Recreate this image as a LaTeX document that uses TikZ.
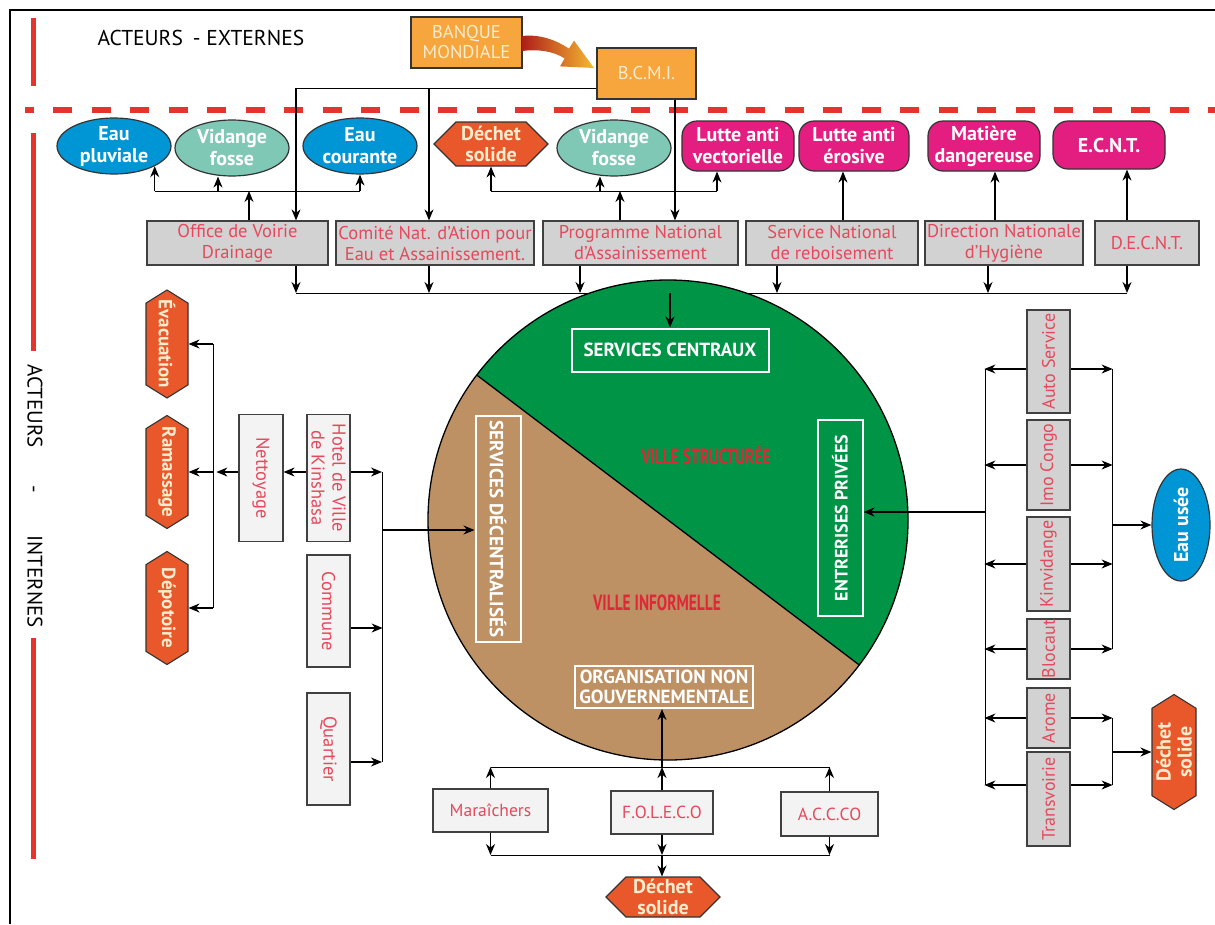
\documentclass[tikz,border=0pt]{standalone}
\usepackage{fontspec}
\setmainfont{PT Sans}
\usetikzlibrary{arrows.meta, shapes.geometric, shapes.symbols, calc}

\definecolor{rougetrait}{RGB}{229,52,43}
\definecolor{orangebox}{RGB}{246,166,60}
\definecolor{creme}{RGB}{253,236,205}
\definecolor{flechedebut}{RGB}{175,30,25}
\definecolor{flechefin}{RGB}{246,185,50}
\definecolor{bleu}{RGB}{0,150,214}
\definecolor{turquoise}{RGB}{128,200,182}
\definecolor{orangehexa}{RGB}{233,88,42}
\definecolor{rose}{RGB}{227,30,128}
\definecolor{grisbox}{RGB}{210,210,210}
\definecolor{grisclair}{RGB}{243,243,243}
\definecolor{texterouge}{RGB}{230,72,92}
\definecolor{vert}{RGB}{0,148,70}
\definecolor{brun}{RGB}{190,145,100}
\definecolor{villerouge}{RGB}{222,40,55}

\begin{document}
\begin{tikzpicture}[x=1pt, y=-1pt,
    fleche/.style={-{Stealth[length=11pt, width=9pt]}, line width=1.2pt},
    ovale/.style={ellipse, draw=black!80, line width=1.2pt, minimum width=114pt,
      minimum height=56pt, inner sep=-8pt, text=white, align=center,
      font=\bfseries\fontsize{20}{22}\selectfont},
    hexa/.style={signal, signal to=east and west, signal pointer angle=90,
      fill=orangehexa, draw=black!80, line width=1.1pt, inner xsep=0pt, inner ysep=-4pt,
      text=creme, align=center, font=\bfseries\fontsize{20}{21}\selectfont},
    hexav/.style={hexa, minimum height=42pt, signal pointer angle=116, inner xsep=-12pt,
      inner ysep=0pt, font=\bfseries\fontsize{19}{21}\selectfont},
    arrondi/.style={rectangle, rounded corners=15pt, fill=rose, draw=black!80,
      line width=1.2pt, minimum height=50pt, inner sep=0pt, text=white, align=center,
      font=\bfseries\fontsize{20}{22}\selectfont},
    service/.style={rectangle, fill=grisbox, draw=black!75, line width=1.2pt,
      inner sep=0pt, text=texterouge, align=center, font=\fontsize{18.5}{21}\selectfont},
    acteur/.style={service, fill=grisclair},
    cadre/.style={rectangle, draw=white, line width=2pt, inner sep=0pt, text=white,
      align=center, font=\bfseries\fontsize{19}{20}\selectfont},
    mondial/.style={rectangle, fill=orangebox, draw=black!80, line width=1.2pt,
      inner sep=0pt, text=creme, align=center, font=\fontsize{18.5}{20}\selectfont}]
  \fill[white] (0,0) rectangle (1215,924);
  \useasboundingbox (0,0) rectangle (1215,924);
  \draw[line width=1.5pt] (1215,10) -- (10,10) -- (10,924);

  % Red markers: externes / internes.
  \draw[rougetrait, line width=5pt] (33,18) -- (33,86);
  \draw[rougetrait, line width=6pt, dash pattern=on 19pt off 19.5pt, dash phase=10.5pt]
    (25,110) -- (1215,110);
  \draw[rougetrait, line width=5pt] (33,133) -- (33,351) (33,638) -- (33,859);
  \node[anchor=west, font=\fontsize{21.5}{24}\selectfont] (ext) at (94,38)
    {ACTEURS\hspace{10pt}- EXTERNES};
  \node[rotate=-90, font=\fontsize{21}{24}\selectfont] (int) at (35,496)
    {ACTEURS\hspace{38pt}-\hspace{42pt}INTERNES};

  % Bailleurs.
  \node[mondial, minimum width=111pt, minimum height=51pt] (banque) at (466.5,42.5) {BANQUE\\MONDIALE};
  \node[mondial, minimum width=99pt, minimum height=51pt] (bcmi) at (646.5,73.5) {B.C.M.I.};
  \shade[left color=flechedebut, right color=flechefin]
    (522,36) .. controls (540,34) and (556,40) .. (569,48.6) -- (574,40.6) -- (594,68)
    -- (560,66.4) -- (564.6,58.4) .. controls (553,51) and (538,49) .. (522,51) -- cycle;

  % Domaines d'intervention.
  \node[ovale, fill=bleu] (pluv) at (114,146) {Eau\\pluviale};
  \node[ovale, fill=turquoise] (vid1) at (232,148) {Vidange\\fosse};
  \node[ovale, fill=bleu] (cour) at (360,146) {Eau\\courante};
  \node[hexa, minimum width=114pt, minimum height=44pt] (dech1) at (491,144) {Déchet\\solide};
  \node[ovale, fill=turquoise] (vid2) at (614,148) {Vidange\\fosse};
  \node[arrondi, minimum width=112pt] (vect) at (738,146) {Lutte anti\\vectorielle};
  \node[arrondi, minimum width=110pt] (eros) at (854,146) {Lutte anti\\érosive};
  \node[arrondi, minimum width=112pt] (mdang) at (984,146) {Matière\\dangereuse};
  \node[arrondi, minimum width=112pt, minimum height=48pt] (ecnt) at (1109,145) {E.C.N.T.};

  % Services centraux.
  \node[service, minimum width=181pt, minimum height=44pt] (ovd) at (237.5,243) {Office de Voirie\\Drainage};
  \node[service, minimum width=198pt, minimum height=44pt] (cnaea) at (435,243) {Comité Nat. d’Ation pour\\Eau et Assainissement.};
  \node[service, minimum width=195pt, minimum height=44pt] (pna) at (640.5,243) {Programme National\\d’Assainissement};
  \node[service, minimum width=172pt, minimum height=44pt] (snr) at (832,243) {Service National\\de reboisement};
  \node[service, minimum width=158pt, minimum height=44pt] (dnh) at (1004,243) {Direction Nationale\\d’Hygiène};
  \node[service, minimum width=104pt, minimum height=44pt] (decnt) at (1147,243) {D.E.C.N.T.};

  % B.C.M.I. vers les services.
  \coordinate (bk1) at (296,88);
  \coordinate (bk2) at (429,88);
  \draw (bcmi.west |- bk1) -- (bk1);
  \draw[fleche] (bk1) -- (bk1 |- ovd.north);
  \draw[fleche] (bk2) -- (bk2 |- cnaea.north);
  \draw[fleche] (675,0 |- bcmi.south) -- (675,0 |- pna.north);

  % Services vers domaines.
  \coordinate (o1) at (249,191);
  \draw[fleche] (o1 |- ovd.north) -- (o1);
  \draw (o1 -| pluv.south east) -- (o1 -| cour.south);
  \draw[fleche] (o1 -| pluv.south east) -- (pluv.south east);
  \draw[fleche] (218,191) -- (218,0 |- vid1.south);
  \draw[fleche] (o1 -| cour.south) -- (cour.south);
  \coordinate (o2) at (620,191);
  \draw[fleche] (o2 |- pna.north) -- (o2);
  \draw (o2 -| dech1.south) -- (717,191);
  \draw[fleche] (o2 -| dech1.south) -- (dech1.south);
  \draw[fleche] (600,191) -- (600,0 |- vid2.south);
  \draw[fleche] (717,191) -- (717,0 |- vect.south);
  \draw[fleche] (843,0 |- snr.north) -- (843,0 |- eros.south);
  \draw[fleche] (995,0 |- dnh.north) -- (995,0 |- mdang.south);
  \draw[fleche] (1127,0 |- decnt.north) -- (1127,0 |- ecnt.south);

  % Services vers la ville.
  \coordinate (bus1) at (296,293);
  \coordinate (bus2) at (1127,293);
  \draw (bus1) -- (bus2);
  \foreach \n/\x in {ovd/296, cnaea/429, pna/580, snr/777, dnh/988, decnt/1127}
    \draw[fleche] (\x,0 |- \n.south) -- (\x,293);

  % La ville: structuree / informelle.
  \coordinate (ville) at (668,520);
  \fill[vert] (ville) circle[radius=240];
  \begin{scope}
    \clip (ville) circle[radius=240];
    \fill[brun] (428,338) -- (908,702) -- (908,770) -- (428,770) -- cycle;
  \end{scope}
  \draw[line width=1.3pt] (ville) circle[radius=240];
  \draw[line width=1.3pt] (476.7,375) -- (859.3,665);
  \node[cadre, minimum width=197pt, minimum height=43pt] (scentr) at (670,350) {SERVICES CENTRAUX};
  \node[cadre, rotate=90, minimum width=196pt, minimum height=45pt, font=\bfseries\fontsize{18}{20}\selectfont]
    (entpr) at (840,518) {ENTRERISES PRIVÉES};
  \node[cadre, rotate=-90, minimum width=226pt, minimum height=45pt] (sdec) at (498,529) {SERVICES DÉCENTRALISÉS};
  \node[cadre, minimum width=178pt, minimum height=42pt] (ong) at (664,687) {ORGANISATION NON\\GOUVERNEMENTALE};
  \node[text=villerouge, font=\bfseries\fontsize{22}{22}\selectfont, xscale=0.7] (vstruct) at (706,455) {VILLE STRUCTURÉE};
  \node[text=villerouge, font=\bfseries\fontsize{22}{22}\selectfont, xscale=0.7] (vinf) at (657,603) {VILLE INFORMELLE};
  \draw[fleche] (scentr.north |- bus1) -- (scentr.north);

  % Services decentralises.
  \node[hexav, rotate=-90, minimum width=108pt] (evac) at (167,344) {Évacuation};
  \node[hexav, rotate=-90, minimum width=113pt] (ramas) at (167,472) {Ramassage};
  \node[hexav, rotate=-90, minimum width=113pt] (depot) at (167,608) {Dépotoire};
  \node[acteur, rotate=-90, minimum width=127pt, minimum height=44pt] (netto) at (261,478) {Nettoyage};
  \node[acteur, rotate=-90, minimum width=127pt, minimum height=43pt] (hotel) at (328.5,478) {Hotel de Ville\\de Kinshasa};
  \node[acteur, rotate=-90, minimum width=112pt, minimum height=43pt] (commune) at (328.5,611) {Commune};
  \node[acteur, rotate=-90, minimum width=112pt, minimum height=43pt] (quartier) at (328.5,749) {Quartier};
  \coordinate (g1) at (213,344);
  \coordinate (g2) at (213,608);
  \draw (g1) -- (g2);
  \draw[fleche] (g1) -- (evac.north);
  \draw[fleche] (g1 |- ramas.north) -- (ramas.north);
  \draw[fleche] (g2) -- (depot.north);
  \draw[fleche] (netto.south |- ramas.north) -- ++(-22,0);
  \draw[fleche] (hotel.south |- ramas.north) -- (netto.north |- ramas.north);
  \coordinate (d1) at (382,472);
  \coordinate (d2) at (382,762);
  \coordinate (d3) at (382,530);
  \draw (d1) -- (d2);
  \draw[fleche] (hotel.north |- d1) -- (d1);
  \draw[fleche] ([yshift=-17pt]commune.north) -- ++(32,0);
  \draw[fleche] ([yshift=-13pt]quartier.north) -- (d2);
  \draw[fleche] (d3) -- (sdec.south |- d3);

  % Entreprises privees.
  \foreach \n/\y/\l/\t in {autos/361.5/103/Auto Service, imo/465/90/Imo Congo,
      kinvid/564/94/Kinvidange, blocaut/649/60/Blocaut, arome/718/60/Arome,
      transv/799/94/Transvoirie}
    \node[service, rotate=90, minimum width=\l pt, minimum height=43pt,
      font=\fontsize{18}{21}\selectfont] (\n) at (1048.5,\y) {\t};
  \foreach \n/\dy in {autos/-7.5, imo/0, kinvid/0, blocaut/0, arome/0, transv/14} {
    \draw[fleche] ([yshift=\dy pt]\n.north) -- ++(-42,0);
    \draw[fleche] ([yshift=\dy pt]\n.south) -- ++(42,0);
  }
  \node[ovale, fill=bleu, rotate=90, minimum width=112pt, minimum height=58pt] (eauusee) at (1181,525) {Eau usée};
  \node[hexav, rotate=90, minimum width=115pt, minimum height=44pt, inner xsep=-4pt, inner ysep=-4pt,
    font=\bfseries\fontsize{20}{21}\selectfont] (dech2) at (1174,752) {Déchet\\solide};
  \coordinate (e1) at (985,369);
  \coordinate (e2) at (985,785);
  \coordinate (e3) at (985,512);
  \draw (e1) -- (e2);
  \draw[fleche] (e3) -- (e3 -| entpr.south);
  \coordinate (f1) at (1112,369);
  \coordinate (f2) at (1112,649);
  \coordinate (f3) at (1112,718);
  \coordinate (f4) at (1112,785);
  \draw (f1) -- (f2) (f3) -- (f4);
  \draw[fleche] (f1 |- eauusee.north) -- (eauusee.north);
  \draw[fleche] (f3 |- dech2.north) -- (dech2.north);

  % Organisations non gouvernementales.
  \node[acteur, minimum width=115pt, minimum height=43pt, font=\fontsize{17.5}{20}\selectfont] (marai) at (490.5,810.5) {Maraîchers};
  \node[acteur, minimum width=102pt, minimum height=43pt, font=\fontsize{17.5}{20}\selectfont] (foleco) at (662,812.5) {F.O.L.E.C.O};
  \node[acteur, minimum width=97pt, minimum height=44pt, font=\fontsize{17.5}{20}\selectfont] (accco) at (829.5,814) {A.C.C.CO};
  \node[hexa, minimum width=114pt, minimum height=40pt] (dech3) at (663,897) {Déchet\\solide};
  \coordinate (h1) at (490.5,767);
  \coordinate (h2) at (829.5,767);
  \coordinate (k1) at (490.5,855);
  \coordinate (k2) at (829.5,855);
  \draw (h1) -- (h2) (k1) -- (k2);
  \foreach \n in {marai, foleco, accco} {
    \draw[fleche] (\n.north) -- (\n.north |- h1);
    \draw[fleche] (\n.south) -- (\n.south |- k1);
  }
  \draw[fleche] (foleco.north |- h1) -- (foleco.north |- ong.south);
  \draw[fleche] (foleco.south |- k1) -- (foleco.south |- dech3.north);
\end{tikzpicture}
\end{document}
